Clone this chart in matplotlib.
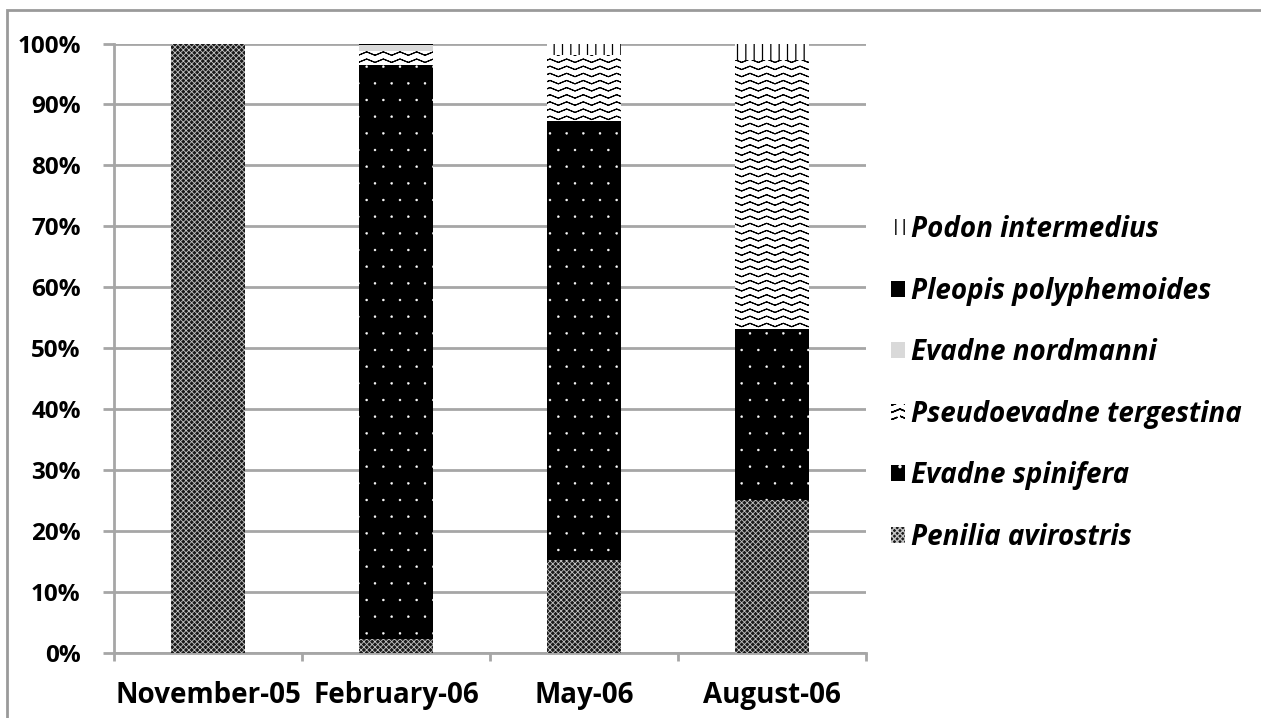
import warnings
import numpy as np
import matplotlib
matplotlib.use("Agg")
import matplotlib.pyplot as plt
import matplotlib.hatch as mhatch
from matplotlib.path import Path
from matplotlib.patches import Rectangle, Patch
from matplotlib.ticker import FixedLocator, PercentFormatter

warnings.filterwarnings("ignore")

# ---- data (percent of total cladoceran abundance) ----
months = ["November-05", "February-06", "May-06", "August-06"]
penilia_avirostris = [100.0, 2.3, 15.3, 25.1]
evadne_spinifera = [0.0, 94.2, 72.0, 28.1]
pseudoevadne_tergestina = [0.0, 2.2, 10.8, 44.1]
evadne_nordmanni = [0.0, 1.1, 0.0, 0.0]
pleopis_polyphemoides = [0.0, 0.2, 0.0, 0.0]
podon_intermedius = [0.0, 0.0, 1.9, 2.7]
y_ticks = [0, 10, 20, 30, 40, 50, 60, 70, 80, 90, 100]


# ---- wavy hatch pattern ('~') ----
# Each wave is traced forward and back so the outline encloses no area
# (Agg fills hatch paths as well as stroking them).
class WaveHatch(mhatch.HatchPatternBase):
    periods = 6
    pts_per_period = 8

    def __init__(self, hatch, density):
        self.num_rows = int(round(hatch.count('~') * density * 2.25))
        self.pts = self.periods * self.pts_per_period + 1
        self.row_len = 2 * self.pts - 1
        self.num_vertices = self.num_rows * self.row_len

    def set_vertices_and_codes(self, vertices, codes):
        xs = np.linspace(0.0, 1.0, self.pts)
        amp = 0.017
        wave = amp * (np.abs(((xs * self.periods * 2) % 2) - 1) * 2 - 1)
        xs_full = np.concatenate([xs, xs[-2::-1]])
        wave_full = np.concatenate([wave, wave[-2::-1]])
        for i in range(self.num_rows):
            y0 = (i + 0.5) / self.num_rows
            sl = slice(i * self.row_len, (i + 1) * self.row_len)
            vertices[sl, 0] = xs_full
            vertices[sl, 1] = y0 + wave_full
            codes[sl] = Path.LINETO
            codes[i * self.row_len] = Path.MOVETO


mhatch._hatch_types.append(WaveHatch)
mhatch.SmallFilledCircles.size = 0.06

plt.rcParams["font.family"] = ["Open Sans", "DejaVu Sans"]

fig = plt.figure(figsize=(12.61, 7.18), dpi=100)
ax = fig.add_axes([114 / 1261, 1 - 653 / 718, (866 - 114) / 1261, (653 - 43.5) / 718])

series = [
    ("Penilia avirostris", penilia_avirostris,
     dict(facecolor="#1a1a1a", edgecolor="#c4c4c4", hatch="xxxxxx"), 0.6),
    ("Evadne spinifera", evadne_spinifera,
     dict(facecolor="black", edgecolor="white", hatch="."), 0.3),
    ("Pseudoevadne tergestina", pseudoevadne_tergestina,
     dict(facecolor="white", edgecolor="black", hatch="~"), 0.75),
    ("Evadne nordmanni", evadne_nordmanni,
     dict(facecolor="#d9d9d9", edgecolor="#d9d9d9", hatch=None), 1.0),
    ("Pleopis polyphemoides", pleopis_polyphemoides,
     dict(facecolor="black", edgecolor="black", hatch=None), 1.0),
    ("Podon intermedius", podon_intermedius,
     dict(facecolor="white", edgecolor="black", hatch="||"), 0.9),
]

x = np.arange(len(months))
bottom = np.zeros(len(months))
handles = []
for name, vals, style, hlw in series:
    vals = np.array(vals, dtype=float)
    with plt.rc_context({"hatch.linewidth": hlw}):
        bars = ax.bar(x, vals, width=0.39, bottom=bottom, linewidth=0, zorder=3, **style)
        h = Patch(linewidth=0, label=name, **style)
    for p in list(bars) + [h]:
        if hasattr(p, "set_hatch_linewidth"):
            p.set_hatch_linewidth(hlw)
    bottom += vals
    handles.append(h)

ax.set_xlim(-0.5, len(months) - 0.5)
ax.set_ylim(0, 100)

grid_col = "#a6a6a6"
ax.yaxis.set_major_locator(FixedLocator(y_ticks))
ax.yaxis.set_major_formatter(PercentFormatter(decimals=0))
ax.grid(axis="y", color=grid_col, linewidth=2, zorder=0)
ax.set_axisbelow(True)

ax.set_xticks(x)
ax.set_xticklabels(months)
ax.set_xticks(np.arange(-0.5, len(months)), minor=True)
ax.tick_params(axis="x", which="major", length=0, pad=20, labelsize=20)
ax.tick_params(axis="x", which="minor", length=6, width=2, color=grid_col, direction="out")
ax.tick_params(axis="y", length=8, width=2, color=grid_col, pad=16, labelsize=17.5)
for lbl in ax.get_xticklabels() + ax.get_yticklabels():
    lbl.set_fontweight("bold")

for side in ("top", "right"):
    ax.spines[side].set_visible(False)
for side in ("left", "bottom"):
    ax.spines[side].set_color(grid_col)
    ax.spines[side].set_linewidth(2)

leg = fig.legend(handles[::-1], [h.get_label() for h in handles[::-1]],
                 loc="upper left", bbox_to_anchor=(869 / 1261, 1 - 193 / 718),
                 frameon=False, handlelength=0.5, handleheight=0.5,
                 handletextpad=0.2, labelspacing=1.17, borderpad=0.3,
                 prop=dict(size=20, weight="bold", style="italic"))

# chart area border
fig.patches.append(Rectangle((7 / 1261, -0.05), 1.1, 1 - 10 / 718 + 0.05,
                             transform=fig.transFigure, fill=False,
                             edgecolor="#9a9a9a", linewidth=2))

fig.savefig("out.png", dpi=100)
